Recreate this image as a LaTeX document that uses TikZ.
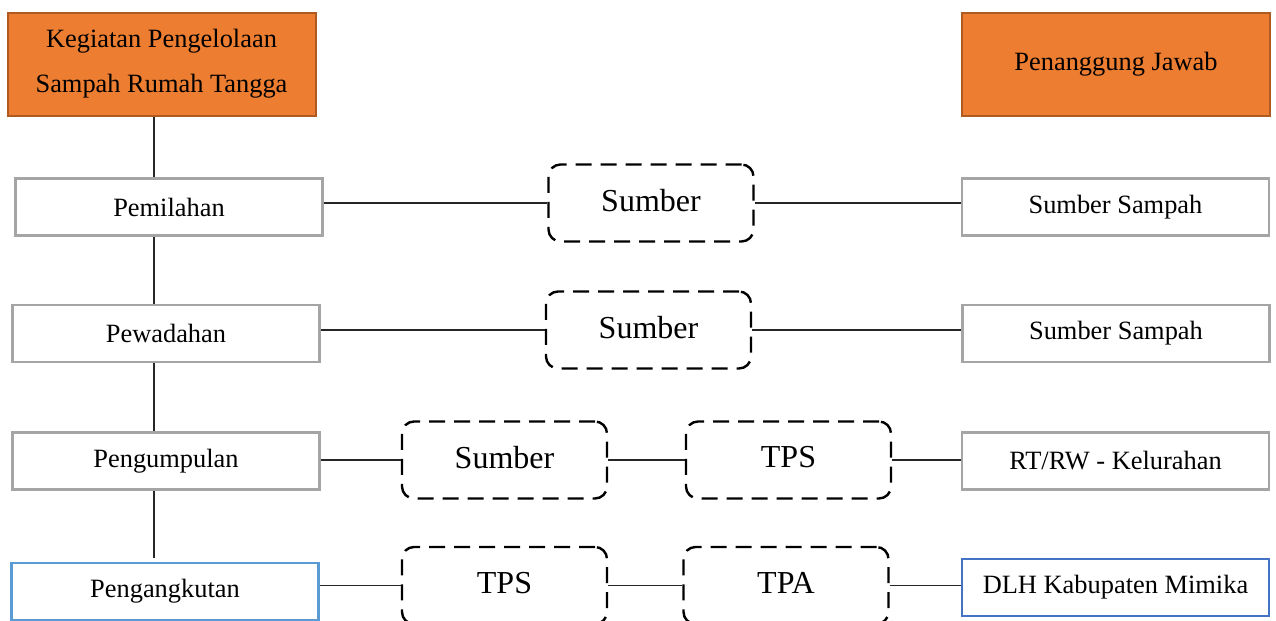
\documentclass[tikz,border=0pt]{standalone}
\usepackage{fontspec}
\setmainfont{Liberation Serif}
\usetikzlibrary{positioning}
\definecolor{headorange}{RGB}{237, 125, 49}
\definecolor{headedge}{RGB}{174, 90, 33}
\definecolor{boxgray}{RGB}{165, 165, 165}
\definecolor{lightblue}{RGB}{91, 155, 213}
\definecolor{darkblue}{RGB}{68, 114, 196}
\tikzstyle{header} = [rectangle, minimum width=154pt, minimum height=51.5pt, align=center, draw=headedge, line width=1pt, fill=headorange, font=\fontsize{13.2}{22.5}\selectfont]
\tikzstyle{activity} = [rectangle, minimum width=153.5pt, minimum height=28.5pt, draw=boxgray, line width=1.2pt, fill=white, font=\fontsize{13.2}{16}\selectfont]
\tikzstyle{place} = [rectangle, rounded corners=6pt, minimum width=102.5pt, minimum height=38.5pt, text depth=3pt, draw=black, line width=1.2pt, dash pattern=on 8pt off 4.5pt, font=\fontsize{16}{19}\selectfont]
\tikzstyle{link} = [line width=0.7pt, black!85]

\begin{document}
\begin{tikzpicture}[x=0.5pt, y=-0.5pt]
      \useasboundingbox (0,0) rectangle (1276,621);
      % headers
      \node[header] (kegiatan) at (161.5,64) {Kegiatan Pengelolaan\\Sampah Rumah Tangga};
      \node[header] (jawab) at (1116,64) {Penanggung Jawab};
      % activities
      \node[activity] (pilah) at (169,207) {Pemilahan};
      \node[activity] (wadah) at (166,333.5) {Pewadahan};
      \node[activity] (kumpul) at (166,461) {Pengumpulan};
      \node[activity, draw=lightblue] (angkut) at (165,591.5) {Pengangkutan};
      % responsible
      \node[activity] (sampah1) at (1115.5,207) {Sumber Sampah};
      \node[activity] (sampah2) at (1116,333.5) {Sumber Sampah};
      \node[activity] (rtrw) at (1115.5,461) {RT/RW - Kelurahan};
      \node[activity, draw=darkblue] (dlh) at (1115.5,587.5) {DLH Kabupaten Mimika};
      % places
      \node[place] (sumber1) at (651,203) {Sumber};
      \node[place] (sumber2) at (648.5,330) {Sumber};
      \node[place] (sumber3) at (504.5,460) {Sumber};
      \node[place] (tps3) at (788.5,460) {TPS};
      \node[place] (tps4) at (504.5,585.5) {TPS};
      \node[place] (tpa4) at (786,585.5) {TPA};

      \coordinate (spine) at (154,0);
      \draw[link] (kegiatan.south -| spine) -- (pilah.north -| spine);
      \draw[link] (pilah.south -| spine) -- (wadah.north -| spine);
      \draw[link] (wadah.south -| spine) -- (kumpul.north -| spine);
      \draw[link] (kumpul.south -| spine) -- ([yshift=2pt]angkut.north -| spine);

      \draw[link] (pilah.east |- sumber1.west) -- (sumber1.west);
      \draw[link] (sumber1.east) -- (sumber1.east -| sampah1.west);
      \draw[link] (wadah.east |- sumber2.west) -- (sumber2.west);
      \draw[link] (sumber2.east) -- (sumber2.east -| sampah2.west);
      \draw[link] (kumpul.east |- sumber3.west) -- (sumber3.west);
      \draw[link] (sumber3.east) -- (tps3.west);
      \draw[link] (tps3.east) -- (tps3.east -| rtrw.west);
      \draw[link] (angkut.east |- tps4.west) -- (tps4.west);
      \draw[link] (tps4.east) -- (tpa4.west);
      \draw[link] (tpa4.east) -- (tpa4.east -| dlh.west);
    \end{tikzpicture}
\end{document}
